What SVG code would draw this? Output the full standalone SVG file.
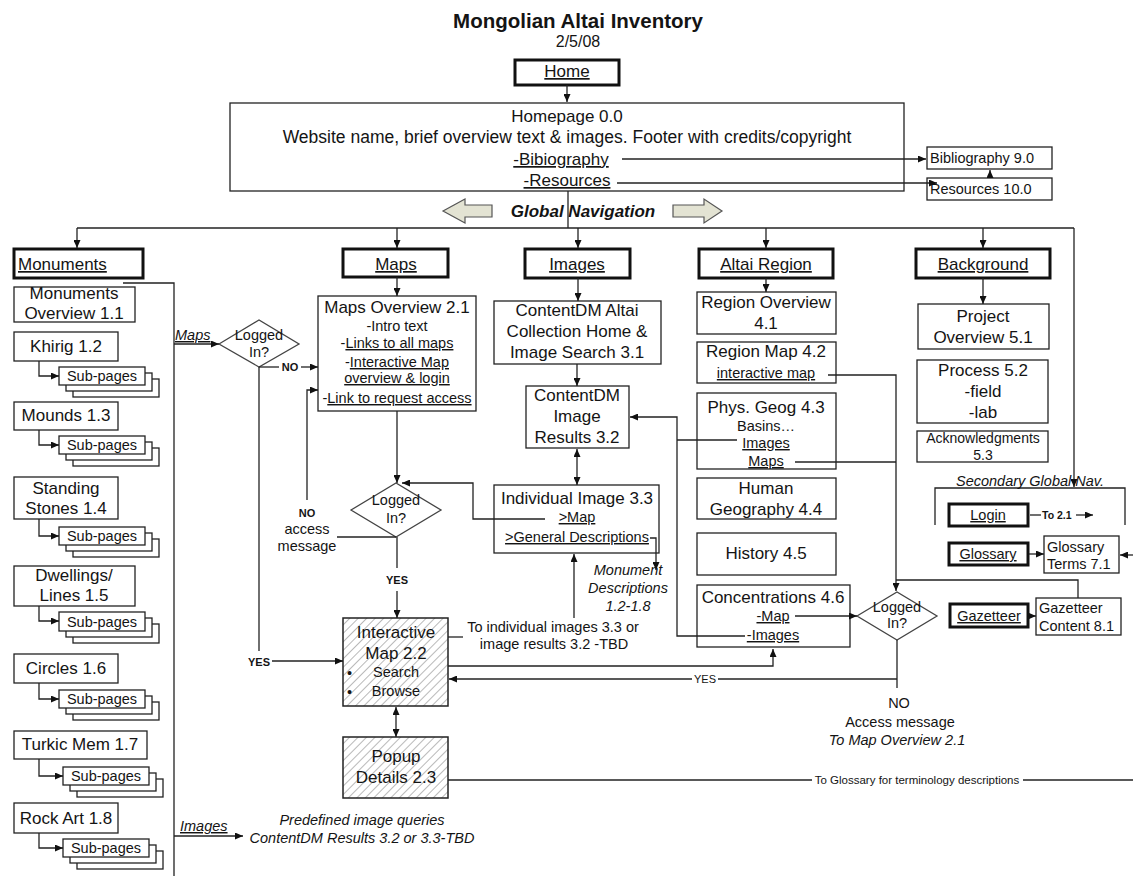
<svg xmlns="http://www.w3.org/2000/svg" width="1133" height="876" viewBox="0 0 1133 876">
<style>
text{font-family:"Liberation Sans",Arial,sans-serif;fill:#141414;font-size:17px}
.c{text-anchor:middle}
.s14{font-size:14.5px}
.s11{font-size:11px}
.b{font-weight:bold}
.it{font-style:italic}
.u{text-decoration:underline}
.box{fill:#fff;stroke:#222;stroke-width:1.3}
.nav{fill:#fff;stroke:#111;stroke-width:3}
.hatch{fill:url(#hatch);stroke:#222;stroke-width:1.5}
.dec{fill:#fff;stroke:#444;stroke-width:1.3}
.blk{fill:#e3e3d3;stroke:#555;stroke-width:1.2}
.ln{fill:none;stroke:#222;stroke-width:1.3}
.a{marker-end:url(#ah)}
.aa{marker-end:url(#ah);marker-start:url(#ahs)}
</style>
<defs>
<marker id="ah" viewBox="0 0 8 7" refX="8" refY="3.5" markerWidth="8" markerHeight="7" markerUnits="userSpaceOnUse" orient="auto"><path d="M0,0L8,3.5L0,7z" fill="#111"/></marker>
<marker id="ahs" viewBox="0 0 8 7" refX="8" refY="3.5" markerWidth="8" markerHeight="7" markerUnits="userSpaceOnUse" orient="auto-start-reverse"><path d="M0,0L8,3.5L0,7z" fill="#111"/></marker>
<pattern id="hatch" width="6" height="6" patternUnits="userSpaceOnUse" patternTransform="rotate(45)"><rect width="6" height="6" fill="#fff"/><line x1="0" y1="0" x2="0" y2="6" stroke="#8a8a8a" stroke-width="1.2"/></pattern>
</defs>

<!-- heading -->
<text class="c b" x="578" y="28" style="font-size:20.5px">Mongolian Altai Inventory</text>
<text class="c" x="578" y="47" style="font-size:16px">2/5/08</text>

<!-- global navigation banner -->
<g id="global-nav">
  <polygon class="blk" points="443,211 465,199 465,205 492,205 492,217 465,217 465,223"/>
  <polygon class="blk" points="722,211 704,199 704,205 673,205 673,217 704,217 704,223"/>
  <text class="c b it" x="583" y="217">Global Navigation</text>
</g>

<g id="home"><rect class="nav" x="515" y="60" width="104" height="25"/><text class="c u" x="567" y="77">Home</text></g>

<g id="homepage">
  <rect class="box" x="230" y="103" width="674" height="88"/>
  <text class="c" x="567" y="122">Homepage 0.0</text>
  <text class="c" x="567" y="143" style="font-size:17.5px">Website name, brief overview text &amp; images. Footer with credits/copyright</text>
  <text class="c u" x="561" y="165">-Bibiography</text>
  <text class="c u" x="567" y="186">-Resources</text>
</g>
<g id="bibliography"><rect class="box" x="927" y="147" width="125" height="22"/><text class="s14" x="930" y="163">Bibliography 9.0</text></g>
<g id="resources"><rect class="box" x="927" y="178" width="125" height="22"/><text class="s14" x="930" y="194">Resources 10.0</text></g>

<!-- monuments column -->
<g id="monuments"><rect class="nav" x="14" y="249" width="129" height="29"/><text class="u" x="18" y="270">Monuments</text></g>
<g id="monuments-overview"><rect class="box" x="14" y="287" width="121" height="35"/><text class="c" x="74" y="299">Monuments</text><text class="c" x="74" y="319">Overview 1.1</text></g>
<g id="khirig"><rect class="box" x="14" y="332" width="104" height="29"/><text class="c" x="66" y="352">Khirig 1.2</text></g>
<g id="khirig-sub"><rect class="box" x="73" y="379" width="86" height="18"/><rect class="box" x="66" y="373" width="86" height="18"/><rect class="box" x="59" y="367" width="86" height="18"/><text class="c s14" x="102" y="381">Sub-pages</text></g>
<g id="mounds"><rect class="box" x="14" y="402" width="104" height="28"/><text class="c" x="66" y="421">Mounds 1.3</text></g>
<g id="mounds-sub"><rect class="box" x="73" y="448" width="86" height="18"/><rect class="box" x="66" y="442" width="86" height="18"/><rect class="box" x="59" y="436" width="86" height="18"/><text class="c s14" x="102" y="450">Sub-pages</text></g>
<g id="standing-stones"><rect class="box" x="14" y="477" width="104" height="42"/><text class="c" x="66" y="494">Standing</text><text class="c" x="66" y="514">Stones 1.4</text></g>
<g id="standing-sub"><rect class="box" x="73" y="539" width="86" height="18"/><rect class="box" x="66" y="533" width="86" height="18"/><rect class="box" x="59" y="527" width="86" height="18"/><text class="c s14" x="102" y="541">Sub-pages</text></g>
<g id="dwellings"><rect class="box" x="14" y="566" width="121" height="40"/><text class="c" x="74" y="581">Dwellings/</text><text class="c" x="74" y="601">Lines 1.5</text></g>
<g id="dwellings-sub"><rect class="box" x="73" y="624" width="86" height="19"/><rect class="box" x="66" y="618" width="86" height="19"/><rect class="box" x="59" y="612" width="86" height="19"/><text class="c s14" x="102" y="627">Sub-pages</text></g>
<g id="circles"><rect class="box" x="14" y="654" width="104" height="29"/><text class="c" x="66" y="674">Circles 1.6</text></g>
<g id="circles-sub"><rect class="box" x="73" y="702" width="86" height="18"/><rect class="box" x="66" y="696" width="86" height="18"/><rect class="box" x="59" y="690" width="86" height="18"/><text class="c s14" x="102" y="704">Sub-pages</text></g>
<g id="turkic"><rect class="box" x="14" y="731" width="133" height="28"/><text class="c" x="80" y="750">Turkic Mem 1.7</text></g>
<g id="turkic-sub"><rect class="box" x="77" y="779" width="86" height="18"/><rect class="box" x="70" y="773" width="86" height="18"/><rect class="box" x="63" y="767" width="86" height="18"/><text class="c s14" x="106" y="781">Sub-pages</text></g>
<g id="rock-art"><rect class="box" x="14" y="803" width="104" height="30"/><text class="c" x="66" y="824">Rock Art 1.8</text></g>
<g id="rock-art-sub"><rect class="box" x="77" y="851" width="86" height="18"/><rect class="box" x="70" y="845" width="86" height="18"/><rect class="box" x="63" y="839" width="86" height="18"/><text class="c s14" x="106" y="853">Sub-pages</text></g>

<!-- maps column -->
<g id="login-check-1"><polygon class="dec" points="219,344 259,320 299,344 259,367"/><text class="c s14" x="259" y="340">Logged</text><text class="c s14" x="259" y="357">In?</text></g>
<g id="maps"><rect class="nav" x="343" y="249" width="105" height="28"/><text class="c u" x="396" y="270">Maps</text></g>
<g id="maps-overview">
  <rect class="box" x="318" y="296" width="158" height="115"/>
  <text class="c" x="397" y="313">Maps Overview 2.1</text>
  <text class="c s14" x="397" y="331">-Intro text</text>
  <text class="c s14" x="397" y="348">-<tspan class="u">Links to all maps</tspan></text>
  <text class="c s14" x="397" y="367">-<tspan class="u">Interactive Map</tspan></text>
  <text class="c s14 u" x="397" y="383">overview &amp; login</text>
  <text class="c s14" x="397" y="403">-<tspan class="u">Link to request access</tspan></text>
</g>
<g id="login-check-2"><polygon class="dec" points="351,510 396,483 441,510 396,537"/><text class="c s14" x="396" y="505">Logged</text><text class="c s14" x="396" y="523">In?</text></g>
<g id="interactive-map">
  <rect class="hatch" x="343" y="618" width="105" height="88"/>
  <text class="c" x="396" y="638">Interactive</text>
  <text class="c" x="396" y="659">Map 2.2</text>
  <text class="s14" x="347" y="678">•</text>
  <text class="s14" x="347" y="697">•</text>
  <text class="c s14" x="396" y="677">Search</text>
  <text class="c s14" x="396" y="696">Browse</text>
</g>
<g id="popup-details"><rect class="hatch" x="343" y="737" width="105" height="61"/><text class="c" x="396" y="762">Popup</text><text class="c" x="396" y="783">Details 2.3</text></g>

<!-- images column -->
<g id="images"><rect class="nav" x="525" y="249" width="105" height="29"/><text class="c u" x="577" y="270">Images</text></g>
<g id="contentdm-home"><rect class="box" x="494" y="301" width="167" height="63"/><text class="c" x="577" y="316">ContentDM Altai</text><text class="c" x="577" y="337">Collection Home &amp;</text><text class="c" x="577" y="358">Image Search 3.1</text></g>
<g id="image-results"><rect class="box" x="526" y="386" width="103" height="62"/><text class="c" x="577" y="401">ContentDM</text><text class="c" x="577" y="422">Image</text><text class="c" x="577" y="443">Results 3.2</text></g>
<g id="individual-image"><rect class="box" x="494" y="485" width="165" height="68"/><text class="c" x="577" y="504">Individual Image 3.3</text><text class="c s14 u" x="577" y="522">&gt;Map</text><text class="c s14 u" x="577" y="542">&gt;General Descriptions</text></g>

<!-- altai region column -->
<g id="altai-region"><rect class="nav" x="699" y="249" width="134" height="29"/><text class="c u" x="766" y="270">Altai Region</text></g>
<g id="region-overview"><rect class="box" x="697" y="292" width="139" height="42"/><text class="c" x="766" y="308">Region Overview</text><text class="c" x="766" y="329">4.1</text></g>
<g id="region-map"><rect class="box" x="697" y="342" width="139" height="41"/><text class="c" x="766" y="357">Region Map 4.2</text><text class="c s14 u" x="766" y="378">interactive map</text></g>
<g id="phys-geog"><rect class="box" x="697" y="393" width="139" height="76"/><text class="c" x="766" y="413">Phys. Geog 4.3</text><text class="c s14" x="766" y="431">Basins…</text><text class="c s14 u" x="766" y="448">Images</text><text class="c s14 u" x="766" y="466">Maps</text></g>
<g id="human-geography"><rect class="box" x="697" y="478" width="139" height="41"/><text class="c" x="766" y="494">Human</text><text class="c" x="766" y="515">Geography 4.4</text></g>
<g id="history"><rect class="box" x="697" y="533" width="139" height="42"/><text class="c" x="766" y="559">History 4.5</text></g>
<g id="concentrations"><rect class="box" x="697" y="585" width="153" height="62"/><text class="c" x="773" y="603">Concentrations 4.6</text><text class="c s14 u" x="773" y="621">-Map</text><text class="c s14 u" x="773" y="640">-Images</text></g>
<g id="login-check-3"><polygon class="dec" points="857,616 897,592 937,616 897,640"/><text class="c s14" x="897" y="612">Logged</text><text class="c s14" x="897" y="628">In?</text></g>

<!-- background column -->
<g id="background"><rect class="nav" x="916" y="249" width="134" height="29"/><text class="c u" x="983" y="270">Background</text></g>
<g id="project-overview"><rect class="box" x="918" y="304" width="131" height="45"/><text class="c" x="983" y="322">Project</text><text class="c" x="983" y="343">Overview 5.1</text></g>
<g id="process"><rect class="box" x="917" y="360" width="131" height="63"/><text class="c" x="983" y="376">Process 5.2</text><text class="c" x="983" y="397">-field</text><text class="c" x="983" y="418">-lab</text></g>
<g id="acknowledgments"><rect class="box" x="917" y="431" width="131" height="31"/><text class="c" x="983" y="443" style="font-size:14px">Acknowledgments</text><text class="c" x="983" y="460" style="font-size:14px">5.3</text></g>

<!-- secondary navigation -->
<g id="login"><rect class="nav" x="949" y="504" width="79" height="22"/><text class="c s14 u" x="988" y="520">Login</text></g>
<g id="glossary"><rect class="nav" x="949" y="543" width="79" height="22"/><text class="c s14 u" x="988" y="559">Glossary</text></g>
<g id="glossary-terms"><rect class="box" x="1044" y="536" width="75" height="37"/><text class="s14" x="1047" y="552">Glossary</text><text class="s14" x="1047" y="569">Terms 7.1</text></g>
<g id="gazetteer"><rect class="nav" x="950" y="604" width="78" height="23"/><text class="c s14 u" x="989" y="621">Gazetteer</text></g>
<g id="gazetteer-content"><rect class="box" x="1036" y="598" width="85" height="37"/><text class="s14" x="1039" y="613">Gazetteer</text><text class="s14" x="1039" y="631">Content 8.1</text></g>

<!-- connectors, drawn over the boxes so links leave from their text -->
<g id="connectors">
  <path class="ln a" d="M567,85V102"/>
  <path class="ln a" d="M622,159H926"/>
  <path class="ln a" d="M617,183H937"/>
  <path class="ln a" d="M990,178V170"/>
  <path class="ln" d="M568,191V228"/>
  <path class="ln" d="M77,228H1074"/>
  <path class="ln a" d="M77,228V248"/>
  <path class="ln a" d="M397,228V248"/>
  <path class="ln a" d="M578,228V248"/>
  <path class="ln a" d="M766,228V248"/>
  <path class="ln a" d="M983,228V248"/>
  <path class="ln a" d="M1074,228V487"/>

  <!-- monuments -->
  <path class="ln" d="M123,283H174V876"/>
  <path class="ln a" d="M39,361V376H59"/>
  <path class="ln a" d="M39,430V445H59"/>
  <path class="ln a" d="M39,519V536H59"/>
  <path class="ln a" d="M39,606V621H59"/>
  <path class="ln a" d="M39,683V699H59"/>
  <path class="ln a" d="M39,759V776H63"/>
  <path class="ln a" d="M39,833V848H63"/>
  <path class="ln a" d="M174,344H219"/>
  <path class="ln a" d="M174,836H243"/>

  <!-- maps -->
  <path class="ln a" d="M397,277V296"/>
  <path class="ln" d="M259,367H279"/>
  <path class="ln a" d="M301,367H318"/>
  <path class="ln" d="M259,367V651"/>
  <path class="ln a" d="M272,661H343"/>
  <path class="ln a" d="M397,411V483"/>
  <path class="ln" d="M396,537H337"/>
  <path class="ln a" d="M307,500V390H318"/>
  <path class="ln" d="M397,537V568"/>
  <path class="ln a" d="M397,591V618"/>
  <path class="ln a" d="M545,519H473V483H402"/>
  <path class="ln aa" d="M396,707V737"/>
  <path class="ln" d="M448,637H463"/>
  <path class="ln a" d="M574,618V554"/>
  <path class="ln" d="M448,780H812"/>
  <path class="ln" d="M1023,780H1133"/>

  <!-- images -->
  <path class="ln a" d="M578,278V301"/>
  <path class="ln a" d="M577,364V386"/>
  <path class="ln aa" d="M577,449V485"/>
  <path class="ln a" d="M650,538H656V570"/>

  <!-- altai region -->
  <path class="ln a" d="M766,278V292"/>
  <path class="ln a" d="M828,375H896V591"/>
  <path class="ln" d="M795,462H896"/>
  <path class="ln" d="M1078,598V580H896"/>
  <path class="ln a" d="M795,616H857"/>
  <path class="ln" d="M737,440H677"/>
  <path class="ln a" d="M745,636H677V417H630"/>
  <path class="ln a" d="M448,666H773V649"/>
  <path class="ln" d="M897,640V688"/>
  <path class="ln" d="M897,679H718"/>
  <path class="ln a" d="M692,679H449"/>

  <!-- background / secondary -->
  <path class="ln a" d="M983,278V304"/>
  <path class="ln" d="M935,525V488H1125V525"/>
  <path class="ln" d="M1030,515H1041"/>
  <path class="ln a" d="M1076,515H1093"/>
  <path class="ln a" d="M1029,554H1044"/>
  <path class="ln a" d="M1133,555H1120"/>
  <path class="ln a" d="M1029,616H1036"/>
</g>

<!-- connector labels -->
<g id="labels">
  <text class="it s14 u" x="175" y="340">Maps</text>
  <text class="it s14 u" x="180" y="831">Images</text>
  <text class="c it s14" x="362" y="825">Predefined image queries</text>
  <text class="c it s14" x="362" y="843">ContentDM Results 3.2 or 3.3-TBD</text>
  <text class="c b s11" x="290" y="371">NO</text>
  <text class="c b s11" x="259" y="666">YES</text>
  <text class="c b s11" x="307" y="517">NO</text>
  <text class="c s14" x="307" y="534">access</text>
  <text class="c s14" x="307" y="551">message</text>
  <text class="c b s11" x="397" y="584">YES</text>
  <text class="c s14" x="553" y="632">To individual images 3.3 or</text>
  <text class="c s14" x="554" y="649">image results 3.2 -TBD</text>
  <text class="c it s14" x="628" y="575">Monument</text>
  <text class="c it s14" x="628" y="593">Descriptions</text>
  <text class="c it s14" x="628" y="611">1.2-1.8</text>
  <text class="c s11" x="705" y="683">YES</text>
  <text class="c s14" x="899" y="708">NO</text>
  <text class="c s14" x="900" y="727">Access message</text>
  <text class="c it s14" x="897" y="745">To Map Overview 2.1</text>
  <text class="c" x="917" y="784" style="font-size:11.5px">To Glossary for terminology descriptions</text>
  <text class="c it s14" x="1030" y="486">Secondary Global Nav.</text>
  <text class="b" x="1042" y="519" style="font-size:10.5px">To 2.1</text>
</g>
</svg>
